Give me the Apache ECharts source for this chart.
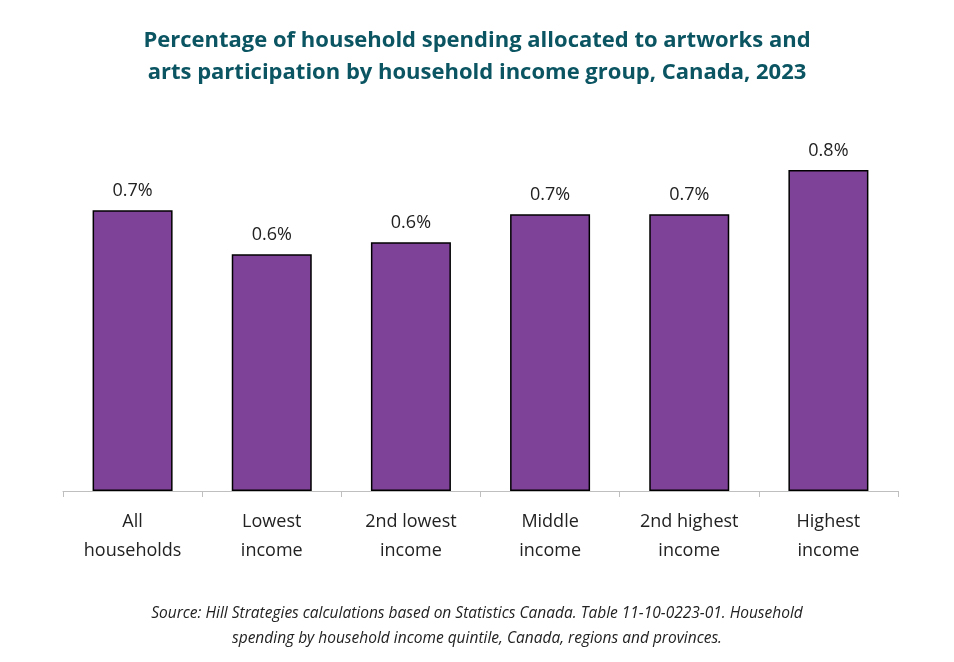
<!DOCTYPE html>
<html><head><meta charset="utf-8">
<script src="https://cdn.jsdelivr.net/npm/echarts@6/dist/echarts.min.js"></script>
<style>html,body{margin:0;padding:0;background:#fff}#c{width:954px;height:662px}</style>
</head><body><div id="c"></div>
<script>
const categories = ["All\nhouseholds","Lowest\nincome","2nd lowest\nincome","Middle\nincome","2nd highest\nincome","Highest\nincome"];
const values = [0.70,0.59,0.62,0.69,0.69,0.80];
const chart = echarts.init(document.getElementById('c'));
chart.setOption({
  animation:false,
  title:[{
    text:"Percentage of household spending allocated to artworks and\narts participation by household income group, Canada, 2023",
    left:'center', top:20,
    textStyle:{color:'#0b5563',fontSize:22,fontWeight:'bold',fontFamily:'Open Sans',lineHeight:32}
  },{
    text:"Source: Hill Strategies calculations based on Statistics Canada. Table 11-10-0223-01. Household\nspending by household income quintile, Canada, regions and provinces.",
    left:'center', top:596,
    textStyle:{color:'#222',fontSize:15.5,fontStyle:'italic',fontWeight:'normal',fontFamily:'Open Sans',lineHeight:25}
  }],
  grid:{left:63,right:56,top:130,bottom:171},
  xAxis:{type:'category',data:categories,
    axisLine:{lineStyle:{color:'#bfbfbf'}},
    axisTick:{show:true,alignWithLabel:false,length:6,lineStyle:{color:'#bfbfbf'}},
    axisLabel:{color:'#222',fontSize:18,fontFamily:'Open Sans',lineHeight:29,margin:16}},
  yAxis:{type:'value',min:0,max:0.9,show:false,splitLine:{show:false}},
  series:[{type:'bar',data:values,barWidth:80,
    itemStyle:{color:'#7e4399',borderColor:'#000',borderWidth:1.5},
    label:{show:true,position:'top',distance:10,color:'#222',fontSize:18,fontFamily:'Open Sans',
      formatter:p=>p.value.toFixed(1)+'%'}}]
});
</script></body></html>
